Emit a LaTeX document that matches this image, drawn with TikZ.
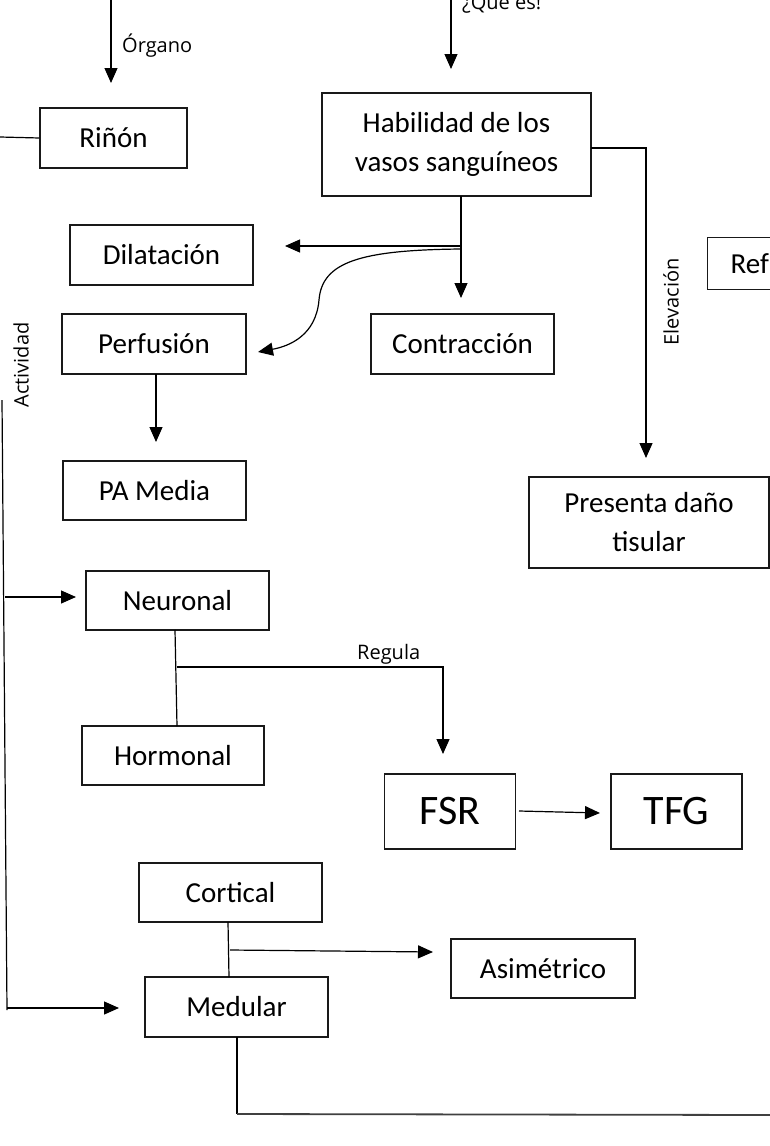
\documentclass[tikz,border=0pt]{standalone}
\usepackage{fontspec}
\setmainfont{Carlito}
\newfontfamily\labfont{Open Sans}
\usetikzlibrary{arrows.meta}
\begin{document}
\begin{tikzpicture}[x=1pt,y=-1pt,
  box/.style={draw=black!90, line width=1.3pt, inner sep=0pt, align=center,
    font=\fontsize{29}{39}\selectfont},
  bigbox/.style={box, font=\fontsize{42}{48}\selectfont},
  conn/.style={line width=1.2pt, draw=black},
  arr/.style={conn, -{Triangle[length=15pt,width=13pt]}},
  lab/.style={inner sep=0pt, font=\labfont\fontsize{20}{24}\selectfont}]
\useasboundingbox (0,0) rectangle (770,1146);
\clip (0,0) rectangle (770,1146);

% boxes
\node[box, minimum width=147pt, minimum height=60pt] (rinon) at (113.5,138) {Riñón};
\node[box, minimum width=269pt, minimum height=103pt] (hab) at (456.5,144.5) {Habilidad de los\\vasos sanguíneos};
\node[box, minimum width=183pt, minimum height=60pt] (dil) at (161.5,255) {Dilatación};
\node[box, minimum width=184pt, minimum height=60pt] (perf) at (154,344) {Perfusión};
\node[box, minimum width=183pt, minimum height=60pt] (contr) at (462.5,344) {Contracción};
\node[box, minimum width=183pt, minimum height=59pt] (pam) at (154.5,490.5) {PA Media};
\node[box, minimum width=240pt, minimum height=91pt] (dano) at (649,522.5) {Presenta daño\\tisular};
\node[box, anchor=north west, minimum height=52pt, inner xsep=23pt, text width=177pt, align=left] (ref) at (707,237) {Ref};
\node[box, minimum width=183pt, minimum height=59pt] (neur) at (177.5,600.5) {Neuronal};
\node[box, minimum width=182pt, minimum height=59pt] (horm) at (173,755.5) {Hormonal};
\node[bigbox, minimum width=131pt, minimum height=75pt] (fsr) at (450,811.5) {FSR};
\node[bigbox, minimum width=131pt, minimum height=75pt] (tfg) at (676.5,811.5) {TFG};
\node[box, minimum width=183pt, minimum height=59pt] (cort) at (230.5,892.5) {Cortical};
\node[box, minimum width=184pt, minimum height=59pt] (asim) at (543,968.5) {Asimétrico};
\node[box, minimum width=183pt, minimum height=60pt] (med) at (236.5,1007) {Medular};

% labels
\node[lab, anchor=base west] (lorg) at (122,52) {Órgano};
\node[lab, anchor=base west] (lque) at (462,9) {¿Que es!};
\node[lab, anchor=base west] (lreg) at (357,659) {Regula};
\node[lab, rotate=90] (lelev) at (671,302) {Elevación};
\node[lab, rotate=90] (lact) at (21,365) {Actividad};

% free coordinates
\coordinate (o1) at (111,0);
\coordinate (o2) at (111,83);
\coordinate (q1) at (451,0);
\coordinate (q2) at (451,69);
\coordinate (rl) at (0,137);
\coordinate (hr1) at (591,148);
\coordinate (hr2) at (646,148);
\coordinate (hr3) at (646,458);
\coordinate (hd1) at (461,196);
\coordinate (hd2) at (461,298);
\coordinate (dl1) at (461,246);
\coordinate (dl2) at (285,246);
\coordinate (cv1) at (461,249);
\coordinate (cv2) at (319,300);
\coordinate (cv3) at (258,352);
\coordinate (pf1) at (156,374);
\coordinate (pf2) at (156,442);
\coordinate (lv1) at (2,400);
\coordinate (lv2) at (7,1010);
\coordinate (ne1) at (5,597);
\coordinate (ne2) at (76,597);
\coordinate (nh1) at (175,630);
\coordinate (nh2) at (177,726);
\coordinate (rg1) at (177,667);
\coordinate (rg2) at (443,667);
\coordinate (rg3) at (443,754);
\coordinate (ft1) at (519,811);
\coordinate (ft2) at (600,813);
\coordinate (cm1) at (228,922);
\coordinate (cm2) at (229,977);
\coordinate (as1) at (230,950);
\coordinate (as2) at (433,952);
\coordinate (me1) at (7,1008);
\coordinate (me2) at (119,1008);
\coordinate (mb1) at (237,1037);
\coordinate (mb2) at (237,1114);
\coordinate (mb3) at (770,1115);

% connectors
\draw[arr] (o1) -- (o2);
\draw[arr] (q1) -- (q2);
\draw[conn] (rinon.west) -- (rl);
\draw[arr] (hr1) -- (hr2) -- (hr3);
\draw[arr] (hd1) -- (hd2);
\draw[arr] (dl1) -- (dl2);
\draw[arr] (cv1) .. controls (360,250) and (322,262) .. (cv2) .. controls (316,335) and (290,346) .. (cv3);
\draw[arr] (pf1) -- (pf2);
\draw[conn] (lv1) -- (lv2);
\draw[arr] (ne1) -- (ne2);
\draw[conn] (nh1) -- (nh2);
\draw[arr] (rg1) -- (rg2) -- (rg3);
\draw[arr] (ft1) -- (ft2);
\draw[conn] (cm1) -- (cm2);
\draw[arr] (as1) -- (as2);
\draw[arr] (me1) -- (me2);
\draw[conn] (mb1) -- (mb2);
\draw[conn, draw=black!75, line width=1.8pt] (mb2) -- (mb3);
\end{tikzpicture}
\end{document}
